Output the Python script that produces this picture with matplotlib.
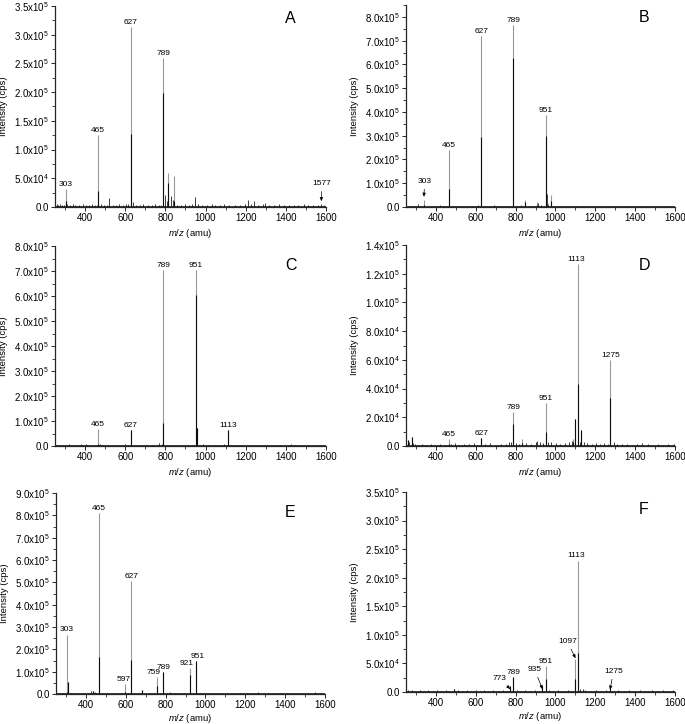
import numpy as np
import matplotlib
matplotlib.use("Agg")
import matplotlib.pyplot as plt
from matplotlib.ticker import FuncFormatter, MultipleLocator

plt.rcParams['font.family'] = ['Liberation Sans', 'DejaVu Sans']
plt.rcParams['mathtext.fontset'] = 'custom'
plt.rcParams['mathtext.rm'] = 'Liberation Sans'
plt.rcParams['mathtext.it'] = 'Liberation Sans:italic'

# ---------------- data (m/z, intensity in cps) ----------------
# Panel A
A_mz = [303, 465, 627, 789, 815, 845]
A_top = [3.2e4, 1.25e5, 3.13e5, 2.6e5, 6.0e4, 5.4e4]
A_core = [1.0e4, 2.7e4, 1.27e5, 1.98e5, 4.2e4, 1.0e4]
A_labels = ['303', '465', '627', '789', '', '']
A_noise_mz = [258, 266, 275, 284, 296, 312, 325, 338, 352, 371, 388, 405, 418, 432, 447, 458, 478, 492,
              508, 521, 537, 553, 571, 589, 604, 616, 640, 655, 672, 690, 712, 731, 748, 766, 779, 796,
              808, 826, 836, 858, 876, 898, 917, 933, 945, 962, 984, 1005, 1030, 1047, 1072, 1094, 1118,
              1146, 1171, 1195, 1211, 1228, 1241, 1262, 1284, 1296, 1318, 1342, 1368, 1391, 1415, 1440,
              1462, 1488, 1511, 1536, 1559, 1577, 1592]
A_noise_int = [6e3, 4e3, 5e3, 3e3, 4e3, 5e3, 3e3, 6e3, 4e3, 3e3, 5e3, 4e3, 3e3, 6e3, 4e3, 3e3, 5e3, 4e3,
               3e3, 1.5e4, 4e3, 3e3, 5e3, 4e3, 6e3, 5e3, 9e3, 4e3, 3e3, 5e3, 3e3, 4e3, 6e3, 3e3, 4e3, 2.1e4,
               1.0e4, 2.0e4, 1.2e4, 4e3, 3e3, 5e3, 4e3, 6e3, 1.7e4, 5e3, 3e3, 4e3, 6e3, 3e3, 4e3, 5e3, 3e3,
               4e3, 3e3, 5e3, 1.2e4, 6e3, 1.1e4, 4e3, 5e3, 7e3, 3e3, 4e3, 5e3, 3e3, 4e3, 3e3, 4e3,
               5e3, 3e3, 4e3, 3e3, 5e3, 3e3]

# Panel B
B_mz = [340, 465, 627, 789, 845, 905, 951, 980]
B_top = [2.8e4, 2.39e5, 7.19e5, 7.64e5, 3.0e4, 2.0e4, 3.86e5, 5.2e4]
B_core = [1.0e4, 7.7e4, 2.95e5, 6.27e5, 2.0e4, 1.0e4, 2.98e5, 2.5e4]
B_labels = ['', '465', '627', '789', '', '', '951', '']
B_noise_mz = [262, 278, 291, 310, 326, 358, 375, 392, 420, 438, 452, 484, 501, 530, 556, 581, 603, 612,
              648, 668, 690, 714, 738, 757, 772, 808, 826, 862, 884, 912, 928, 958, 965, 992, 1012, 1046,
              1078, 1105, 1136, 1168, 1201, 1233, 1262, 1295, 1326, 1357, 1372, 1401, 1432, 1458, 1488,
              1519, 1548, 1576, 1594]
B_noise_int = [5e3, 4e3, 6e3, 1.4e4, 5e3, 4e3, 6e3, 5e3, 1.0e4, 4e3, 6e3, 5e3, 4e3, 3e3, 6e3, 4e3, 5e3, 7e3,
               5e3, 4e3, 8e3, 3e3, 5e3, 4e3, 6e3, 4e3, 9e3, 5e3, 4e3, 1.6e4, 8e3, 5.5e4, 1.2e4, 6e3, 5e3, 4e3,
               3e3, 5e3, 4e3, 3e3, 5e3, 4e3, 3e3, 5e3, 4e3, 3e3, 6e3, 3e3, 4e3, 5e3, 3e3,
               4e3, 5e3, 3e3, 4e3]

# Panel C
C_mz = [465, 627, 789, 951, 958, 1113]
C_top = [6.9e4, 6.5e4, 7.04e5, 7.04e5, 7.2e4, 6.5e4]
C_core = [1.0e4, 6.5e4, 9.2e4, 6.03e5, 7.2e4, 6.5e4]
C_labels = ['465', '627', '789', '951', '', '1113']
C_noise_mz = [262, 276, 290, 305, 318, 334, 348, 362, 378, 404, 416, 432, 458, 472, 490, 512, 534, 556,
              578, 601, 612, 644, 668, 702, 732, 758, 770, 782, 806, 832, 858, 884, 912, 934, 968, 986,
              1012, 1046, 1072, 1092, 1104, 1128, 1148, 1182, 1214, 1248, 1282, 1298, 1334, 1370, 1412,
              1428, 1446, 1478, 1512, 1530, 1560, 1586]
C_noise_int = [5e3, 4e3, 6e3, 5e3, 7e3, 4e3, 6e3, 5e3, 7e3, 8e3, 6e3, 5e3, 4e3, 8e3, 5e3, 4e3, 6e3, 5e3,
               4e3, 7e3, 5e3, 6e3, 4e3, 5e3, 4e3, 6e3, 1.1e4, 7e3, 5e3, 4e3, 6e3, 5e3, 4e3, 6e3, 5e3, 7e3,
               4e3, 5e3, 6e3, 8e3, 5e3, 4e3, 5e3, 4e3, 3e3, 4e3, 6e3, 5e3, 4e3, 3e3, 5e3,
               8e3, 6e3, 4e3, 3e3, 6e3, 4e3, 5e3]

# Panel D
D_mz = [260, 278, 465, 627, 789, 830, 951, 1090, 1100, 1113, 1130, 1275]
D_top = [4.0e3, 6.3e3, 4.6e3, 5.8e3, 2.37e4, 4.6e3, 3.0e4, 4.6e3, 1.9e4, 1.267e5, 1.14e4, 5.98e4]
D_core = [4.0e3, 6.3e3, 1.5e3, 5.8e3, 1.56e4, 2.0e3, 9.8e3, 3.0e3, 1.9e4, 4.35e4, 1.14e4, 3.37e4]
D_labels = ['', '', '465', '627', '789', '', '951', '', '', '1113', '', '1275']
D_noise_mz = [264, 286, 296, 312, 330, 352, 376, 398, 420, 444, 478, 496, 518, 542, 566, 590, 606,
              648, 672, 700, 726, 752, 768, 776, 804, 818, 852, 878, 900, 908, 924, 940, 962, 978, 1002,
              1024, 1046, 1068, 1082, 1096, 1122, 1142, 1160, 1182, 1206, 1224, 1246, 1262, 1294, 1310,
              1336, 1360, 1384, 1410, 1436, 1462, 1490, 1514, 1540, 1566, 1588, 1596]
D_noise_int = [2.5e3, 2e3, 1.5e3, 1e3, 1.5e3, 1e3, 1.2e3, 1e3, 1.5e3, 1e3, 1.5e3, 2e3, 1e3, 1.5e3,
               1.2e3, 1.8e3, 1e3, 1.5e3, 2e3, 1e3, 1.2e3, 1.5e3, 2.5e3, 3e3, 2e3, 1.5e3, 2e3, 1.2e3, 3e3, 3.5e3,
               2.5e3, 2e3, 2.5e3, 3e3, 2e3, 1.5e3, 2e3, 2.5e3, 3.5e3, 2e3, 3e3, 2.5e3, 2e3, 1.5e3, 2e3, 1.5e3,
               2e3, 1.5e3, 2.5e3, 1.5e3, 1.2e3, 1.5e3, 1e3, 1.5e3, 2e3, 1.2e3, 1e3, 1.5e3, 1e3, 1.2e3, 1e3, 1.5e3]

# Panel E
E_mz = [303, 308, 435, 465, 597, 627, 680, 759, 789, 921, 951]
E_top = [2.66e5, 5.5e4, 1.5e4, 8.1e5, 4.6e4, 5.04e5, 1.6e4, 7.5e4, 9.7e4, 1.16e5, 1.46e5]
E_core = [1.0e4, 5.5e4, 1.5e4, 1.64e5, 1.0e4, 1.54e5, 1.6e4, 3.5e4, 9.7e4, 8.7e4, 1.46e5]
E_labels = ['303', '', '', '465', '597', '627', '', '759', '789', '921', '951']
E_noise_mz = [258, 272, 286, 322, 344, 366, 388, 410, 428, 444, 452, 486, 508, 530, 552, 574, 610, 646,
              662, 700, 722, 742, 774, 806, 820, 842, 868, 894, 936, 962, 972, 996, 1030, 1064, 1100,
              1138, 1172, 1208, 1244, 1262, 1296, 1312, 1344, 1378, 1410, 1446, 1480, 1516, 1548, 1582]
E_noise_int = [4e3, 3e3, 5e3, 4e3, 3e3, 4e3, 3e3, 4e3, 1.2e4, 8e3, 6e3, 4e3, 3e3, 4e3, 3e3, 4e3, 5e3, 4e3,
               6e3, 4e3, 3e3, 5e3, 4e3, 6e3, 8e3, 5e3, 4e3, 3e3, 4e3, 6e3, 5e3, 4e3, 3e3, 4e3, 3e3,
               4e3, 3e3, 4e3, 3e3, 7e3, 4e3, 6e3, 3e3, 4e3, 5e3, 3e3, 4e3, 3e3, 9e3, 4e3]

# Panel F
F_mz = [490, 773, 789, 935, 951, 1097, 1113, 1275]
F_top = [5.0e3, 1.0e4, 2.6e4, 1.0e4, 4.5e4, 5.8e4, 2.3e5, 9.0e3]
F_core = [5.0e3, 1.0e4, 2.6e4, 1.0e4, 2.2e4, 2.3e4, 6.8e4, 9.0e3]
F_labels = ['', '', '789', '', '951', '', '1113', '']
F_noise_mz = [262, 278, 296, 318, 340, 362, 384, 406, 428, 450, 472, 512, 534, 556, 578, 600, 622, 640,
              664, 688, 712, 736, 756, 806, 826, 848, 872, 896, 916, 966, 986, 1012, 1036, 1062, 1084,
              1124, 1136, 1150, 1176, 1202, 1228, 1252, 1290, 1316, 1342, 1370, 1398, 1424, 1450, 1486,
              1512, 1540, 1566, 1590]
F_noise_int = [3e3, 4e3, 2e3, 3e3, 2e3, 3e3, 2e3, 3e3, 2e3, 3e3, 2e3, 3e3, 2e3, 3e3, 2e3, 3e3, 2e3, 4e3,
               2e3, 3e3, 2e3, 3e3, 2e3, 3e3, 2e3, 3e3, 2e3, 3e3, 2e3, 3e3, 2e3, 3e3, 2e3, 3e3, 2e3,
               6e3, 5e3, 3e3, 2e3, 3e3, 2e3, 3e3, 2e3, 3e3, 2e3, 3e3, 2e3, 3e3, 2e3, 4e3,
               2e3, 3e3, 2e3, 3e3]

# arrowed annotations: (text, m/z, intensity at arrow head)
A_arrows = [('1577', 1577, 1.0e4)]
B_arrows = [('303', 340, 4.3e4)]
C_arrows = []
D_arrows = []
E_arrows = []
F_arrows = [('773', 773, 5e3), ('935', 935, 5e3), ('1097', 1101, 5.9e4), ('1275', 1274, 4e3)]

panel_letters = ['A', 'B', 'C', 'D', 'E', 'F']
y_max = [3.5e5, 8.5e5, 8.0e5, 1.4e5, 9.0e5, 3.5e5]
y_major = [5e4, 1e5, 1e5, 2e4, 1e5, 5e4]
x_range = (250, 1600)

# ---------------- drawing ----------------
W, H = 685, 724
fig = plt.figure(figsize=(W / 100, H / 100), dpi=100)
# axes boxes in pixels: left, top, right, bottom
boxes = [
    (55, 6, 326, 207),
    (406, 5, 675, 207),
    (55, 246, 326, 446),
    (406, 245, 675, 446),
    (56, 493, 325, 694),
    (406, 492, 675, 692),
]
letter_pos = [(0.87, 0.94), (0.885, 0.94), (0.87, 0.905), (0.885, 0.9), (0.87, 0.905), (0.885, 0.91)]
# label offsets (points) for peak labels, keyed by panel and label text
label_dx = {('E', '759'): -3, ('E', '921'): -2.5, ('E', '951'): 1.2, ('E', '597'): -1,
            ('D', '1113'): -1, ('F', '1113'): -1}
# arrow label centre offsets in points relative to arrow head
arrow_offsets = {
    'A': [(0, 12.5)],
    'B': [(0.5, 11)],
    'F': [(-7.4, 7.6), (-5.6, 14), (-6, 12), (2.4, 13)],
}

panels = {
    'A': (A_mz, A_top, A_core, A_labels, A_noise_mz, A_noise_int, A_arrows),
    'B': (B_mz, B_top, B_core, B_labels, B_noise_mz, B_noise_int, B_arrows),
    'C': (C_mz, C_top, C_core, C_labels, C_noise_mz, C_noise_int, C_arrows),
    'D': (D_mz, D_top, D_core, D_labels, D_noise_mz, D_noise_int, D_arrows),
    'E': (E_mz, E_top, E_core, E_labels, E_noise_mz, E_noise_int, E_arrows),
    'F': (F_mz, F_top, F_core, F_labels, F_noise_mz, F_noise_int, F_arrows),
}


def sci_fmt(v, pos):
    if v < 0:
        return ''
    if abs(v) < 1e-9:
        return '0.0'
    e = int(np.floor(np.log10(v) + 1e-9))
    m = v / 10 ** e
    return r'%.1fx10$^{%d}$' % (m, e)


TICK_FS = 7.0
PEAK_FS = 6.0
AX_FS = 6.8
for i, key in enumerate(panel_letters):
    mz, top, core, labels, nmz, nint, arrows = panels[key]
    l, t, r, b = boxes[i]
    ax = fig.add_axes([l / W, 1 - b / H, (r - l) / W, (b - t) / H])
    ax.vlines(nmz, 0, nint, color='0.1', lw=0.6)
    ax.vlines(mz, 0, top, color='0.6', lw=0.8)
    ax.vlines(mz, 0, core, color='0.05', lw=0.8)
    ax.plot(x_range, [0, 0], color='0.1', lw=1.2)
    for m, tp, lab in zip(mz, top, labels):
        if lab:
            ax.annotate(lab, (m, tp), xytext=(label_dx.get((key, lab), 0), 0.8),
                        textcoords='offset points', ha='center', va='bottom', fontsize=PEAK_FS)
    for (lab, m, h), off in zip(arrows, arrow_offsets.get(key, [])):
        ax.annotate(lab, xy=(m, h), xytext=off, textcoords='offset points',
                    ha='center', va='center', fontsize=PEAK_FS,
                    arrowprops=dict(arrowstyle='-|>,head_length=0.35,head_width=0.15',
                                    color='black', lw=0.5, shrinkA=1, shrinkB=0))
    ax.set_xlim(*x_range)
    ax.set_ylim(0, y_max[i])
    ax.set_xticks([400, 600, 800, 1000, 1200, 1400, 1600])
    ax.xaxis.set_minor_locator(MultipleLocator(100))
    ax.set_yticks(np.arange(0, y_max[i] + 1, y_major[i]))
    ax.yaxis.set_minor_locator(MultipleLocator(y_major[i] / 2))
    ax.yaxis.set_major_formatter(FuncFormatter(sci_fmt))
    for s in ['top', 'right']:
        ax.spines[s].set_visible(False)
    for s in ['left', 'bottom']:
        ax.spines[s].set_linewidth(0.9)
        ax.spines[s].set_color('0.15')
    ax.tick_params(which='major', length=3, width=0.7, labelsize=TICK_FS, pad=1.5, color='0.15')
    ax.tick_params(which='minor', length=2, width=0.6, color='0.15')
    ax.set_xlabel(r'$m/z$ (amu)', fontsize=AX_FS, labelpad=1 if i >= 4 else 2.5)
    ax.set_ylabel('Intensity (cps)', fontsize=AX_FS)
    ax.yaxis.set_label_coords(-47.0 / (r - l), 0.5)
    ax.text(letter_pos[i][0], letter_pos[i][1], key, transform=ax.transAxes,
            fontsize=11.5, ha='center', va='center')

fig.savefig('out.png', dpi=100)
